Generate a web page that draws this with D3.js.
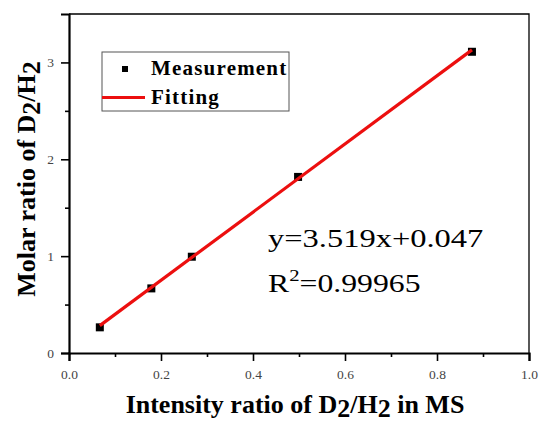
<!DOCTYPE html>
<html>
<head>
<meta charset="utf-8">
<script src="https://cdn.jsdelivr.net/npm/d3@7"></script>
<style>
  body { margin: 0; background: #fff; }
  svg text { font-family: "Liberation Serif", "Times New Roman", serif; }
</style>
</head>
<body>
<svg id="chart"></svg>
<script>
// measured points (intensity ratio in MS vs molar ratio)
const intensityRatio = [0.067, 0.179, 0.267, 0.498, 0.876];
const molarRatio = [0.265, 0.667, 0.994, 1.818, 3.11];
const fitSlope = 3.519;
const fitIntercept = 0.047;
const xTicks = [0, 0.2, 0.4, 0.6, 0.8, 1.0];
const yTicks = [0, 1, 2, 3];
const xMinorTicks = [0.1, 0.3, 0.5, 0.7, 0.9];
const yMinorTicks = [0.5, 1.5, 2.5];
const legendLabels = ["Measurement", "Fitting"];

const W = 541, H = 423;
const margin = { top: 14, right: 12, bottom: 70, left: 69 };
const width = W - margin.left - margin.right;
const height = H - margin.top - margin.bottom;

const svg = d3.select("#chart").attr("width", W).attr("height", H);
const g = svg.append("g").attr("transform", `translate(${margin.left},${margin.top})`);

const x = d3.scaleLinear().domain([0, 1]).range([0, width]);
const y = d3.scaleLinear().domain([0, 3.5]).range([height, 0]);

// frame top/right
g.append("path")
  .attr("d", `M0,0H${width}V${height}`)
  .attr("fill", "none").attr("stroke", "#000").attr("stroke-width", 1.3);

// x axis
g.append("g").attr("transform", `translate(0,${height})`)
  .call(d3.axisBottom(x).tickValues(xTicks).tickFormat(d3.format(".1f")).tickSize(8).tickPadding(8));
g.append("g").attr("transform", `translate(0,${height})`)
  .call(d3.axisBottom(x).tickValues(xMinorTicks).tickFormat("").tickSize(4))
  .select(".domain").remove();

// y axis
g.append("g")
  .call(d3.axisLeft(y).tickValues(yTicks).tickFormat(d3.format("d")).tickSize(8).tickPadding(7));
g.append("g")
  .call(d3.axisLeft(y).tickValues(yMinorTicks).tickFormat("").tickSize(4))
  .select(".domain").remove();

g.selectAll(".domain").attr("stroke-width", 2.2);
g.selectAll(".tick line").attr("stroke-width", 1.6);
g.selectAll(".tick text")
  .style("font-family", "Liberation Serif, serif")
  .style("font-size", "13.5px")
  .attr("fill", "#444");

// data squares
const pts = intensityRatio.map((v, i) => ({ x: v, y: molarRatio[i] }));
g.selectAll("rect.pt")
  .data(pts)
  .enter()
  .append("rect")
    .attr("class", "pt")
    .attr("x", d => x(d.x) - 4)
    .attr("y", d => y(d.y) - 4)
    .attr("width", 8).attr("height", 8)
    .attr("fill", "#000");

// fitting line
const xExt = d3.extent(intensityRatio);
g.append("line")
  .attr("x1", x(xExt[0])).attr("y1", y(fitSlope * xExt[0] + fitIntercept))
  .attr("x2", x(xExt[1])).attr("y2", y(fitSlope * xExt[1] + fitIntercept))
  .attr("stroke", "#ec0f0f").attr("stroke-width", 3.2);

// legend
const lg = svg.append("g");
lg.append("rect")
  .attr("x", 102).attr("y", 52).attr("width", 187).attr("height", 59)
  .attr("fill", "#fff").attr("stroke", "#555").attr("stroke-width", 1);
lg.append("rect").attr("x", 122).attr("y", 66).attr("width", 6).attr("height", 6).attr("fill", "#000");
lg.append("line").attr("x1", 102).attr("x2", 145).attr("y1", 97.5).attr("y2", 97.5)
  .attr("stroke", "#ec0f0f").attr("stroke-width", 3.2);
lg.selectAll("text.leg")
  .data(legendLabels)
  .enter()
  .append("text")
    .attr("class", "leg")
    .attr("x", 151)
    .attr("y", (d, i) => 75 + i * 29)
    .attr("font-size", "21px").attr("font-weight", "bold")
    .attr("letter-spacing", "1.2px")
    .text(d => d);

// equation
const eq = svg.append("g").attr("transform", "translate(268,247) scale(1.25,1)");
eq.append("text").attr("font-size", "26px").text(`y=${fitSlope}x+${fitIntercept}`);
const r2 = svg.append("g").attr("transform", "translate(268,292) scale(1.22,1)");
const r2t = r2.append("text").attr("font-size", "26px");
r2t.append("tspan").text("R");
r2t.append("tspan").attr("font-size", "17px").attr("dy", -11).text("2");
r2t.append("tspan").attr("dy", 11).text("=0.99965");

// axis titles
const xt = svg.append("text")
  .attr("x", 295).attr("y", 413)
  .attr("text-anchor", "middle")
  .attr("font-size", "26px").attr("font-weight", "bold");
xt.append("tspan").text("Intensity ratio of D");
xt.append("tspan").attr("dy", 4).text("2");
xt.append("tspan").attr("dy", -4).text("/H");
xt.append("tspan").attr("dy", 4).text("2");
xt.append("tspan").attr("dy", -4).text(" in MS");

const yt = svg.append("text")
  .attr("transform", `translate(35,179) rotate(-90)`)
  .attr("text-anchor", "middle")
  .attr("font-size", "26px").attr("font-weight", "bold");
yt.append("tspan").text("Molar ratio of D");
yt.append("tspan").attr("dy", 5).text("2");
yt.append("tspan").attr("dy", -5).text("/H");
yt.append("tspan").attr("dy", 5).text("2");
</script>
</body>
</html>
